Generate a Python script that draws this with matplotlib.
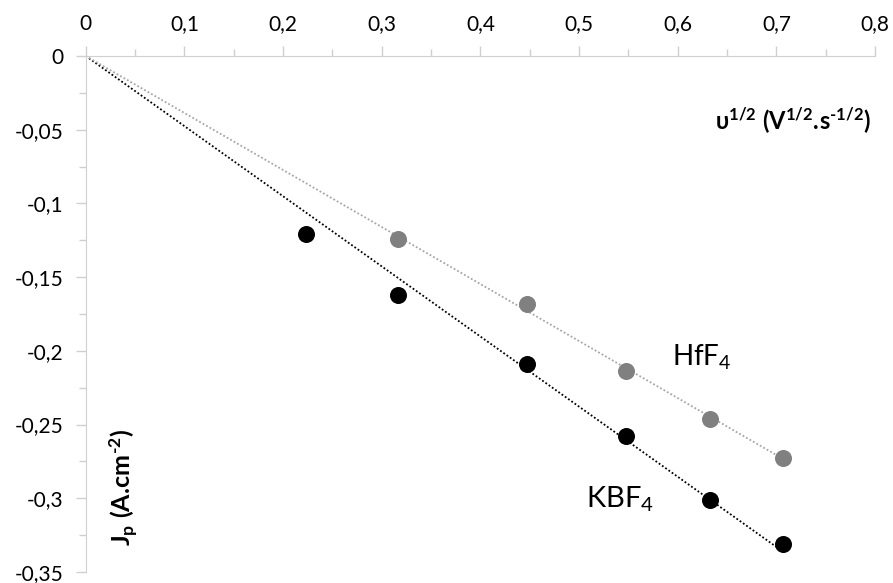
import numpy as np
import matplotlib
matplotlib.use("Agg")
import matplotlib.pyplot as plt
from matplotlib.ticker import MultipleLocator, FuncFormatter

plt.rcParams['font.family'] = ['Lato', 'DejaVu Sans']
plt.rcParams['mathtext.fontset'] = 'custom'
plt.rcParams['mathtext.rm'] = 'Lato'
plt.rcParams['mathtext.bf'] = 'Lato:bold'
plt.rcParams['mathtext.it'] = 'Lato:italic'

# scan rate square roots (V^1/2 s^-1/2) and peak current densities
kbf4_x = np.sqrt([0.05, 0.1, 0.2, 0.3, 0.4, 0.5])
kbf4_y = np.array([-0.121, -0.162, -0.209, -0.258, -0.301, -0.331])
hff4_x = np.sqrt([0.1, 0.2, 0.3, 0.4, 0.5])
hff4_y = np.array([-0.124, -0.168, -0.214, -0.246, -0.273])


# linear fit forced through zero
def zeroFit(x, y):
    return np.sum(x * y) / np.sum(x * x)


def commaFmt(v, pos):
    s = "%g" % round(v, 3)
    return s.replace(".", ",")


fig = plt.figure(figsize=(8.93, 5.83), dpi=100)
ax = fig.add_axes([0.096, 0.019, 0.884, 0.885])

axis_col = "#d0d0d0"

for x, y, col, lcol in [(kbf4_x, kbf4_y, "black", "black"),
                        (hff4_x, hff4_y, "#808080", "#a6a6a6")]:
    k = zeroFit(x, y)
    xx = np.array([0, x.max()])
    ax.plot(xx, k * xx, linestyle=(0, (1, 1.2)), color=lcol, lw=1.3, zorder=2)
    ax.scatter(x, y, s=150, color=col, zorder=3, linewidths=0)

ax.set_xlim(0, 0.8)
ax.set_ylim(-0.35, 0)

ax.xaxis.set_major_locator(MultipleLocator(0.1))
ax.xaxis.set_minor_locator(MultipleLocator(0.05))
ax.yaxis.set_major_locator(MultipleLocator(0.05))
ax.yaxis.set_minor_locator(MultipleLocator(0.025))
ax.xaxis.set_major_formatter(FuncFormatter(commaFmt))
ax.yaxis.set_major_formatter(FuncFormatter(commaFmt))

ax.xaxis.tick_top()
ax.spines['bottom'].set_visible(False)
ax.spines['right'].set_visible(False)
ax.spines['top'].set_color(axis_col)
ax.spines['left'].set_color(axis_col)
ax.tick_params(which='both', color=axis_col, direction='out')
ax.tick_params(which='major', length=7, width=1, labelsize=15, pad=9)
ax.tick_params(which='minor', length=5, width=1)

hy = "\u2010"
ax.text(0.995, 0.875, r"$\mathbf{υ^{1/2}\ (V^{1/2}{.}\!s^{" + hy + r"1/2})}$", transform=ax.transAxes,
        ha='right', va='center', fontsize=17)
ax.text(0.048, 0.163, r"$\mathbf{J_p\ (A{.}\!cm^{" + hy + r"2})}$", transform=ax.transAxes,
        ha='center', va='center', rotation=90, fontsize=18)

ax.text(0.78, 0.417, r"HfF$_4$", transform=ax.transAxes, fontsize=20, ha='center', va='center')
ax.text(0.677, 0.14, r"KBF$_4$", transform=ax.transAxes, fontsize=21, ha='center', va='center')

fig.savefig("out.png", dpi=100)
